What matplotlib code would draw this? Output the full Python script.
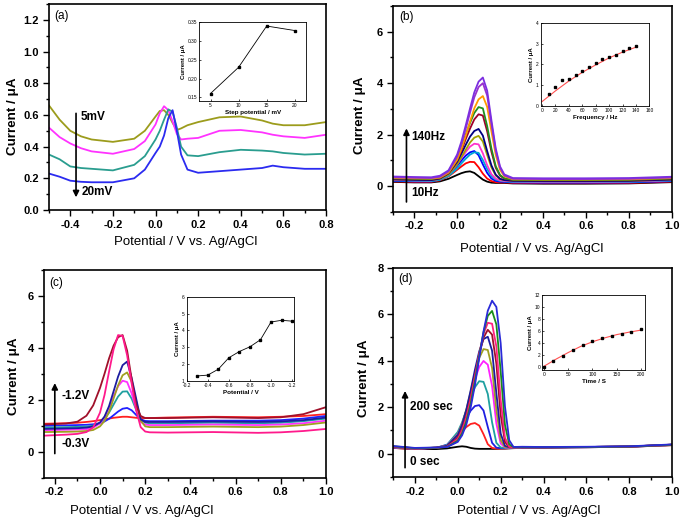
import matplotlib
matplotlib.use('Agg')
import matplotlib.pyplot as plt
from matplotlib.ticker import MultipleLocator, FormatStrFormatter

plt.rcParams['font.family'] = ['Liberation Sans', 'DejaVu Sans']
plt.rcParams['axes.unicode_minus'] = False

# ---------------- (a) step potential ----------------
x_a = [-0.5, -0.45, -0.4, -0.35, -0.3, -0.2, -0.1, -0.05, 0.0, 0.02, 0.04, 0.06,
       0.08, 0.10, 0.12, 0.15, 0.2, 0.3, 0.4, 0.5, 0.55, 0.6, 0.7, 0.8]
a_5mv = [0.66, 0.57, 0.50, 0.465, 0.445, 0.43, 0.45, 0.50, 0.59, 0.625, 0.63, 0.60,
         0.55, 0.505, 0.515, 0.535, 0.555, 0.585, 0.59, 0.565, 0.545, 0.535, 0.535, 0.555]
a_10mv = [0.52, 0.46, 0.42, 0.39, 0.37, 0.355, 0.385, 0.435, 0.54, 0.61, 0.655, 0.63,
          0.56, 0.48, 0.445, 0.45, 0.455, 0.50, 0.505, 0.49, 0.475, 0.465, 0.455, 0.475]
a_15mv = [0.35, 0.32, 0.275, 0.265, 0.26, 0.25, 0.285, 0.34, 0.445, 0.50, 0.57, 0.635,
          0.62, 0.52, 0.40, 0.345, 0.34, 0.365, 0.38, 0.375, 0.37, 0.36, 0.35, 0.355]
a_20mv = [0.23, 0.21, 0.185, 0.178, 0.175, 0.175, 0.20, 0.255, 0.36, 0.40, 0.47, 0.58,
          0.63, 0.50, 0.35, 0.255, 0.235, 0.245, 0.255, 0.265, 0.28, 0.27, 0.26, 0.26]
a_curves = [a_5mv, a_10mv, a_15mv, a_20mv]
a_colors = ['#9c9c1c', '#ff33ff', '#2a9d8f', '#2b2bf0']

a_step = [5, 10, 15, 20]
a_peak = [0.16, 0.23, 0.34, 0.328]

# ---------------- (b) frequency ----------------
x_b = [-0.3, -0.2, -0.12, -0.08, -0.04, 0.0, 0.02, 0.04, 0.06, 0.08, 0.10,
       0.12, 0.14, 0.16, 0.18, 0.20, 0.22, 0.26, 0.4, 0.6, 0.8, 1.0]
b_curves = [
    [0.16, 0.14, 0.14, 0.18, 0.28, 0.43, 0.50, 0.55, 0.57, 0.51, 0.38, 0.25, 0.17, 0.13, 0.12, 0.12, 0.12, 0.10, 0.09, 0.09, 0.10, 0.15],
    [0.18, 0.16, 0.16, 0.22, 0.375, 0.63, 0.76, 0.88, 0.94, 0.93, 0.73, 0.48, 0.29, 0.19, 0.15, 0.14, 0.14, 0.12, 0.11, 0.11, 0.12, 0.17],
    [0.20, 0.18, 0.18, 0.25, 0.44, 0.78, 0.99, 1.18, 1.31, 1.36, 1.20, 0.84, 0.51, 0.29, 0.20, 0.17, 0.16, 0.14, 0.13, 0.13, 0.14, 0.19],
    [0.22, 0.20, 0.19, 0.24, 0.39, 0.68, 0.88, 1.06, 1.22, 1.31, 1.29, 1.01, 0.66, 0.39, 0.25, 0.20, 0.18, 0.16, 0.15, 0.15, 0.16, 0.21],
    [0.24, 0.22, 0.22, 0.28, 0.46, 0.84, 1.09, 1.32, 1.53, 1.645, 1.62, 1.27, 0.81, 0.46, 0.29, 0.22, 0.20, 0.18, 0.17, 0.17, 0.18, 0.23],
    [0.26, 0.24, 0.23, 0.28, 0.45, 0.84, 1.12, 1.41, 1.69, 1.88, 1.95, 1.73, 1.21, 0.72, 0.41, 0.27, 0.23, 0.20, 0.19, 0.19, 0.20, 0.25],
    [0.26, 0.24, 0.23, 0.29, 0.49, 0.94, 1.26, 1.60, 1.92, 2.14, 2.22, 1.96, 1.36, 0.80, 0.44, 0.28, 0.23, 0.20, 0.19, 0.19, 0.20, 0.25],
    [0.29, 0.27, 0.26, 0.31, 0.51, 1.00, 1.38, 1.82, 2.23, 2.59, 2.79, 2.74, 2.13, 1.33, 0.71, 0.40, 0.29, 0.23, 0.22, 0.22, 0.23, 0.28],
    [0.30, 0.28, 0.27, 0.33, 0.54, 1.08, 1.51, 1.99, 2.45, 2.84, 3.07, 3.02, 2.33, 1.45, 0.77, 0.43, 0.30, 0.24, 0.23, 0.23, 0.24, 0.29],
    [0.32, 0.30, 0.29, 0.33, 0.52, 1.02, 1.44, 1.95, 2.50, 3.02, 3.37, 3.50, 3.08, 2.12, 1.21, 0.63, 0.38, 0.26, 0.25, 0.25, 0.26, 0.31],
    [0.34, 0.32, 0.31, 0.36, 0.57, 1.15, 1.63, 2.22, 2.85, 3.45, 3.85, 4.00, 3.52, 2.41, 1.37, 0.71, 0.41, 0.28, 0.27, 0.27, 0.28, 0.33],
    [0.37, 0.35, 0.34, 0.40, 0.61, 1.22, 1.73, 2.35, 3.01, 3.64, 4.06, 4.22, 3.71, 2.55, 1.46, 0.76, 0.45, 0.31, 0.30, 0.30, 0.31, 0.36],
]
b_colors = ['#000000', '#ff0000', '#0000ff', '#00a6d6', '#ff33cc', '#a3a300',
            '#000080', '#a0002a', '#1f8f1f', '#ff9900', '#9932cc', '#7b2ee0']

b_freq = [10, 20, 30, 40, 50, 60, 70, 80, 90, 100, 110, 120, 130, 140]
b_peak = [0.55, 0.93, 1.26, 1.28, 1.5, 1.66, 1.87, 2.05, 2.25, 2.38, 2.46, 2.67, 2.82, 2.9]
b_fit_x = [0, 20, 40, 60, 80, 100, 120, 140]
b_fit_y = [0.2, 0.72, 1.2, 1.62, 1.98, 2.32, 2.6, 2.84]

# ---------------- (c) accumulation potential ----------------
x_c = [-0.25, -0.15, -0.1, -0.06, -0.03, 0.0, 0.02, 0.04, 0.06, 0.08, 0.10, 0.12,
       0.14, 0.16, 0.18, 0.20, 0.22, 0.3, 0.5, 0.7, 0.8, 0.9, 1.0]
c_curves = [
    [1.08, 1.10, 1.12, 1.15, 1.18, 1.22, 1.25, 1.28, 1.31, 1.33, 1.35, 1.35, 1.33, 1.31, 1.30, 1.30, 1.30, 1.32, 1.35, 1.33, 1.35, 1.38, 1.45],
    [1.00, 1.02, 1.03, 1.04, 1.06, 1.10, 1.17, 1.27, 1.41, 1.55, 1.66, 1.69, 1.60, 1.42, 1.25, 1.19, 1.18, 1.18, 1.20, 1.20, 1.22, 1.28, 1.38],
    [0.93, 0.95, 0.96, 0.97, 1.01, 1.11, 1.27, 1.51, 1.82, 2.13, 2.32, 2.33, 2.05, 1.62, 1.22, 1.12, 1.10, 1.10, 1.12, 1.10, 1.12, 1.18, 1.28],
    [0.83, 0.85, 0.86, 0.87, 0.93, 1.09, 1.33, 1.70, 2.14, 2.53, 2.74, 2.69, 2.25, 1.65, 1.15, 1.05, 1.03, 1.03, 1.05, 1.03, 1.05, 1.10, 1.20],
    [0.76, 0.77, 0.78, 0.80, 0.84, 0.98, 1.19, 1.54, 2.05, 2.56, 2.95, 3.06, 2.70, 1.95, 1.20, 0.98, 0.95, 0.95, 0.97, 0.95, 0.97, 1.03, 1.13],
    [0.88, 0.90, 0.91, 0.93, 0.98, 1.13, 1.36, 1.76, 2.33, 2.90, 3.34, 3.48, 2.85, 2.05, 1.25, 1.15, 1.15, 1.15, 1.17, 1.15, 1.17, 1.22, 1.32],
    [1.05, 1.09, 1.16, 1.39, 1.79, 2.46, 3.01, 3.60, 4.09, 4.42, 4.50, 3.90, 2.80, 1.80, 1.38, 1.30, 1.30, 1.30, 1.33, 1.30, 1.33, 1.45, 1.72],
    [0.62, 0.66, 0.69, 0.76, 0.94, 1.51, 2.19, 3.09, 3.95, 4.50, 4.47, 3.72, 2.63, 1.60, 0.95, 0.78, 0.75, 0.74, 0.76, 0.73, 0.75, 0.80, 0.88],
]
c_colors = ['#ff2020', '#2020ff', '#20a0a0', '#ff30ff', '#a0a020', '#1c1ca0', '#a0102a', '#ff1a8c']

c_pot = [-0.3, -0.4, -0.5, -0.6, -0.7, -0.8, -0.9, -1.0, -1.1, -1.2]
c_peak = [1.3, 1.35, 1.7, 2.38, 2.75, 3.03, 3.45, 4.5, 4.6, 4.55]

# ---------------- (d) accumulation time ----------------
x_d = [-0.3, -0.2, -0.1, -0.05, 0.0, 0.02, 0.04, 0.06, 0.08, 0.10, 0.12, 0.14,
       0.16, 0.18, 0.20, 0.22, 0.24, 0.26, 0.3, 0.4, 0.6, 0.8, 1.0]
d_curves = [
    [0.25, 0.20, 0.20, 0.23, 0.30, 0.32, 0.30, 0.25, 0.22, 0.21, 0.21, 0.21, 0.21, 0.21, 0.22, 0.22, 0.23, 0.24, 0.25, 0.26, 0.28, 0.30, 0.37],
    [0.25, 0.20, 0.25, 0.36, 0.75, 0.96, 1.15, 1.28, 1.32, 1.21, 0.84, 0.41, 0.25, 0.22, 0.22, 0.23, 0.24, 0.25, 0.26, 0.27, 0.28, 0.30, 0.37],
    [0.27, 0.21, 0.25, 0.39, 0.87, 1.19, 1.54, 1.85, 2.05, 2.09, 1.86, 1.15, 0.47, 0.26, 0.24, 0.24, 0.25, 0.26, 0.27, 0.27, 0.28, 0.30, 0.38],
    [0.28, 0.22, 0.26, 0.38, 0.94, 1.35, 1.87, 2.41, 2.86, 3.12, 3.09, 2.57, 1.35, 0.47, 0.27, 0.25, 0.26, 0.27, 0.28, 0.28, 0.29, 0.31, 0.38],
    [0.28, 0.22, 0.26, 0.35, 0.84, 1.27, 1.84, 2.53, 3.20, 3.73, 3.99, 3.83, 2.91, 1.30, 0.44, 0.27, 0.26, 0.27, 0.28, 0.28, 0.29, 0.31, 0.38],
    [0.29, 0.22, 0.26, 0.34, 0.83, 1.28, 1.90, 2.66, 3.45, 4.12, 4.50, 4.46, 3.69, 1.88, 0.59, 0.29, 0.27, 0.27, 0.28, 0.28, 0.29, 0.31, 0.38],
    [0.30, 0.23, 0.26, 0.34, 0.81, 1.25, 1.90, 2.72, 3.61, 4.40, 4.93, 5.03, 4.43, 2.60, 0.87, 0.34, 0.28, 0.28, 0.29, 0.28, 0.29, 0.31, 0.39],
    [0.30, 0.23, 0.26, 0.31, 0.67, 1.05, 1.63, 2.42, 3.35, 4.26, 4.99, 5.33, 5.12, 3.87, 1.68, 0.51, 0.28, 0.28, 0.29, 0.28, 0.29, 0.31, 0.39],
    [0.31, 0.23, 0.26, 0.30, 0.63, 0.99, 1.55, 2.34, 3.30, 4.30, 5.15, 5.63, 5.59, 4.61, 2.32, 0.69, 0.30, 0.28, 0.29, 0.28, 0.29, 0.31, 0.39],
    [0.32, 0.24, 0.26, 0.29, 0.56, 0.87, 1.39, 2.14, 3.12, 4.21, 5.22, 5.93, 6.14, 5.56, 3.55, 1.25, 0.40, 0.29, 0.29, 0.28, 0.29, 0.31, 0.39],
    [0.33, 0.25, 0.27, 0.29, 0.51, 0.79, 1.26, 1.98, 2.95, 4.11, 5.25, 6.15, 6.58, 6.31, 4.76, 2.04, 0.58, 0.29, 0.30, 0.29, 0.30, 0.32, 0.40],
]
d_colors = ['#000000', '#ff2020', '#1f1fe0', '#1fa0a0', '#ff20ff', '#a0a020',
            '#1c1ca0', '#a0102a', '#ff2080', '#1a8c1a', '#2a2ad8']

d_time = [0, 20, 40, 60, 80, 100, 120, 140, 160, 180, 200]
d_peak = [0.05, 1.0, 1.75, 2.9, 3.7, 4.35, 4.8, 5.15, 5.5, 5.9, 6.4]
d_fit_x = [0, 25, 50, 75, 100, 125, 150, 175, 200]
d_fit_y = [0.1, 1.3, 2.4, 3.4, 4.2, 4.85, 5.4, 5.8, 6.15]

XLABEL = 'Potential / V vs. Ag/AgCl'
YLABEL = 'Current / \u03bcA'

fig = plt.figure(figsize=(6.83, 5.22), dpi=100)


def main_axes(rect, xlim, ylim, ymaj, yfmt, xlab_pos, ylab_pos, tag):
    ax = fig.add_axes(rect)
    ax.set_xlim(*xlim)
    ax.set_ylim(*ylim)
    ax.xaxis.set_major_locator(MultipleLocator(0.2))
    ax.xaxis.set_minor_locator(MultipleLocator(0.1))
    ax.xaxis.set_major_formatter(FormatStrFormatter('%.1f'))
    ax.yaxis.set_major_locator(MultipleLocator(ymaj))
    ax.yaxis.set_minor_locator(MultipleLocator(ymaj / 2))
    ax.yaxis.set_major_formatter(FormatStrFormatter(yfmt))
    ax.tick_params(which='both', direction='out', labelsize=8, width=1.0, pad=3)
    ax.tick_params(which='major', length=4)
    ax.tick_params(which='minor', length=2)
    plt.setp(ax.get_xticklabels() + ax.get_yticklabels(), fontweight='bold')
    for s in ax.spines.values():
        s.set_linewidth(1.2)
    ax.set_xlabel(XLABEL, fontsize=9.5)
    ax.xaxis.set_label_coords(*xlab_pos)
    ax.set_ylabel(YLABEL, fontsize=9.6, fontweight='bold')
    ax.yaxis.set_label_coords(*ylab_pos)
    ax.text(tag[0], tag[1], tag[2], transform=ax.transAxes, fontsize=8.5,
            ha='left', va='center')
    return ax


def inset_axes(rect, xlim, ylim, xticks, yticks, xfmt, yfmt, xlab):
    ax = fig.add_axes(rect)
    ax.set_xlim(*xlim)
    ax.set_ylim(*ylim)
    ax.set_xticks(xticks)
    ax.set_yticks(yticks)
    ax.xaxis.set_major_formatter(FormatStrFormatter(xfmt))
    ax.yaxis.set_major_formatter(FormatStrFormatter(yfmt))
    ax.tick_params(direction='in', length=1.5, width=0.5, labelsize=3.5, pad=1.5)
    for s in ax.spines.values():
        s.set_linewidth(0.6)
    ax.set_xlabel(xlab, fontsize=4.5, fontweight='bold', labelpad=1.5)
    ax.set_ylabel(YLABEL, fontsize=4.3, fontweight='bold', labelpad=1.5)
    return ax


def arrow(ax, x, y0, y1):
    ax.annotate('', xy=(x, y1), xytext=(x, y0),
                arrowprops=dict(arrowstyle='-|>', color='k', lw=1.2,
                                mutation_scale=9, shrinkA=0, shrinkB=0))


tfont = dict(fontsize=8.5, fontweight='bold', ha='left', va='center')

# ---- (a)
ax = main_axes([0.0717, 0.5977, 0.4056, 0.3946], (-0.5, 0.8), (0, 1.3), 0.2, '%.1f',
               (0.495, -0.126), (-0.107, 0.454), (0.019, 0.943, '(a)'))
for ys, c in zip(a_curves, a_colors):
    ax.plot(x_a, ys, color=c, lw=1.3)
arrow(ax, -0.373, 0.61, 0.08)
ax.text(-0.35, 0.59, '5mV', **tfont)
ax.text(-0.345, 0.115, '20mV', **tfont)

ins = inset_axes([0.2918, 0.8065, 0.1562, 0.1508], (3, 22), (0.14, 0.35),
                 [5, 10, 15, 20], [0.15, 0.20, 0.25, 0.30, 0.35], '%d', '%.2f',
                 'Step potential / mV')
ins.plot(a_step, a_peak, color='k', lw=0.6, marker='s', ms=1.8)

# ---- (b)
ax = main_axes([0.575, 0.5944, 0.4085, 0.394], (-0.3, 1.0), (-1, 7), 2, '%d',
               (0.497, -0.151), (-0.096, 0.47), (0.024, 0.948, '(b)'))
for ys, c in zip(b_curves, b_colors):
    ax.plot(x_b, ys, color=c, lw=1.3)
arrow(ax, -0.236, -0.62, 2.24)
ax.text(-0.215, 1.9, '140Hz', **tfont)
ax.text(-0.215, -0.28, '10Hz', **tfont)

ins = inset_axes([0.7917, 0.7975, 0.159, 0.1579], (-2, 160), (0, 4),
                 list(range(0, 161, 20)), [0, 1, 2, 3, 4], '%d', '%d',
                 'Frequency / Hz')
ins.plot(b_fit_x, b_fit_y, color='#ff5050', lw=0.8)
ins.plot(b_freq, b_peak, ls='none', color='k', marker='s', ms=1.8)

# ---- (c)
ax = main_axes([0.0637, 0.0849, 0.4136, 0.3973], (-0.25, 1.0), (-1, 7), 2, '%d',
               (0.349, -0.132), (-0.083, 0.49), (0.02, 0.94, '(c)'))
for ys, c in zip(c_curves, c_colors):
    ax.plot(x_c, ys, color=c, lw=1.3)
arrow(ax, -0.2, -0.07, 2.65)
ax.text(-0.17, 2.17, '-1.2V', **tfont)
ax.text(-0.17, 0.3, '-0.3V', **tfont)

ins = inset_axes([0.2733, 0.2701, 0.1575, 0.1615], (-0.2, -1.22), (1, 6),
                 [-0.2, -0.4, -0.6, -0.8, -1.0, -1.2], [1, 2, 3, 4, 5, 6], '%.1f', '%d',
                 'Potential / V')
ins.plot(c_pot, c_peak, color='k', lw=0.6, marker='s', ms=1.8)

# ---- (d) narrowed a little so the last tick label stays inside the figure
ax = main_axes([0.5761, 0.0862, 0.408, 0.401], (-0.3, 1.0), (-1, 8), 2, '%d',
               (0.486, -0.134), (-0.085, 0.473), (0.017, 0.945, '(d)'))
for ys, c in zip(d_curves, d_colors):
    ax.plot(x_d, ys, color=c, lw=1.3)
arrow(ax, -0.246, -0.6, 2.7)
ax.text(-0.223, 2.0, '200 sec', **tfont)
ax.text(-0.223, -0.36, '0 sec', **tfont)

ins = inset_axes([0.794, 0.2912, 0.1504, 0.1437], (-3, 208), (-0.5, 12),
                 [0, 50, 100, 150, 200], [0, 2, 4, 6, 8, 10, 12], '%d', '%d',
                 'Time / S')
ins.plot(d_fit_x, d_fit_y, color='#ff5050', lw=0.8)
ins.plot(d_time, d_peak, ls='none', color='k', marker='s', ms=1.8)

fig.savefig('out.png', dpi=100)
